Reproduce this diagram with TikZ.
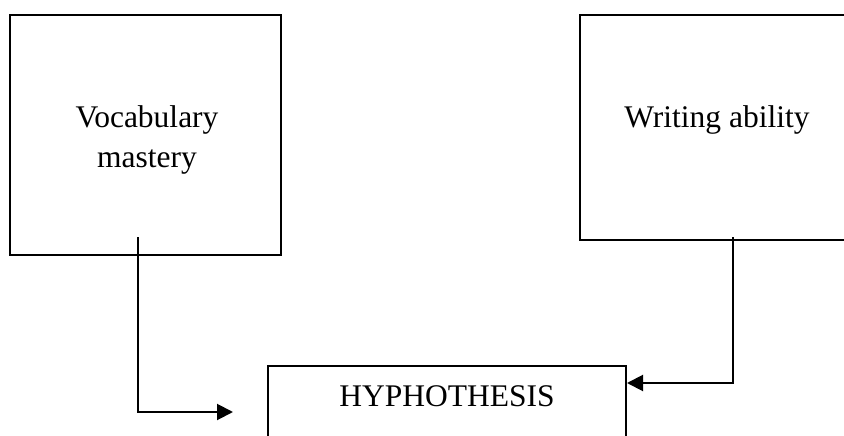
\documentclass[tikz,border=0pt]{standalone}
\usepackage{fontspec}
\setmainfont{Liberation Serif}
\usetikzlibrary{arrows.meta,calc}
\begin{document}
\begin{tikzpicture}[x=1pt,y=-1pt,
  box/.style={draw=black,line width=2pt,inner sep=0pt,align=center,
    font=\fontsize{31.5}{40}\selectfont},
  conn/.style={draw=black,line width=2pt,-{Triangle[length=16pt,width=16pt]}}]
\useasboundingbox (0,0) rectangle (844,436);
\clip (0,0) rectangle (844,436);
\node[box,minimum width=271pt,minimum height=240pt] (vm) at (145.5,135) {};
\node[font=\fontsize{31.5}{40}\selectfont,align=center] (vmt) at (147,140) {Vocabulary\\mastery};
\node[box,minimum width=290pt,minimum height=225pt] (wa) at (725,127.5) {};
\node[font=\fontsize{31.5}{40}\selectfont] (wat) at (717,120) {Writing ability};
\node[box,anchor=north,minimum width=358pt,text height=40pt,text depth=60pt] (hyp) at (447,365) {HYPHOTHESIS};
\coordinate (s1) at (138,237);
\coordinate (e1) at (233,412);
\coordinate (s2) at (733,237);
\draw[conn] (s1) |- (e1);
\draw[conn] (s2) |- ($(hyp.north east)+(0,18)$);
\end{tikzpicture}
\end{document}
